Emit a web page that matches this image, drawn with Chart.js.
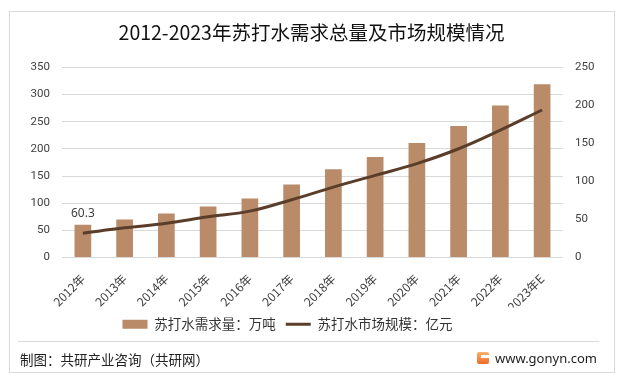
<!DOCTYPE html>
<html><head><meta charset="utf-8">
<script src="https://cdn.jsdelivr.net/npm/chart.js@4/dist/chart.umd.min.js"></script>
<style>
html,body{margin:0;padding:0;background:#fff;}
#wrap{position:relative;width:625px;height:388px;overflow:hidden;font-family:"Noto Sans CJK SC","Noto Sans",sans-serif;}
#frame{position:absolute;left:9px;top:11px;width:606px;height:362px;border:1px solid #d9d9d9;box-sizing:border-box;}
canvas{position:absolute;left:0;top:0;}
#sep{position:absolute;left:18px;top:341px;width:581px;height:1px;background:#d9d9d9;}
#src{position:absolute;left:20px;top:350px;font-size:13.5px;color:#222;line-height:18px;white-space:nowrap;}
#site{position:absolute;left:495px;top:349px;font-size:13px;color:#222;line-height:18px;white-space:nowrap;font-family:"Noto Sans",sans-serif;}
#logo{position:absolute;left:477px;top:352px;width:12px;height:12px;background:linear-gradient(#f8b26a,#ef6b2b);border-radius:2px;}
#logo:after{content:"";position:absolute;left:4px;top:3px;width:8px;height:3px;background:#fff;}
</style></head>
<body>
<div id="wrap">
  <div id="frame"></div>
  <canvas id="c" width="625" height="388"></canvas>
  <div id="sep"></div>
  <div id="src">制图：共研产业咨询（共研网）</div>
  <div id="logo"></div>
  <div id="site">www.gonyn.com</div>
</div>
<script>
const categories = ["2012年","2013年","2014年","2015年","2016年","2017年","2018年","2019年","2020年","2021年","2022年","2023年E"];
const demandValues = [60.3, 70, 81, 94, 108.5, 134.5, 162.5, 185, 211, 242, 280, 319];
const marketValues = [32, 39, 45, 53.5, 61, 76, 92.5, 108, 123.5, 143, 167.5, 194];
const leftTicks = [0, 50, 100, 150, 200, 250, 300, 350];
const rightTicks = [0, 50, 100, 150, 200, 250];
const labelledPoint = 0;

const labelPlugin = {
  id: 'firstLabel',
  afterLayout(chart) {
    if (chart.legend) { chart.legend.left -= 24; chart.legend.right -= 24; }
  },
  afterDatasetsDraw(chart) {
    const meta = chart.getDatasetMeta(0);
    const el = meta.data[labelledPoint];
    const ctx = chart.ctx;
    ctx.save();
    ctx.font = '12px "Noto Sans", sans-serif';
    ctx.fillStyle = '#404040';
    ctx.textAlign = 'center';
    ctx.textBaseline = 'bottom';
    ctx.fillText(String(demandValues[labelledPoint]), el.x, el.y - 5);
    ctx.restore();
  }
};

new Chart(document.getElementById('c'), {
  type: 'bar',
  data: {
    labels: categories,
    datasets: [
      {
        type: 'bar',
        label: '苏打水需求量：万吨',
        data: demandValues,
        backgroundColor: '#b98b69',
        borderWidth: 0,
        barPercentage: 0.8,
        categoryPercentage: 0.5,
        yAxisID: 'y',
        order: 1
      },
      {
        type: 'line',
        label: '苏打水市场规模：亿元',
        data: marketValues,
        borderColor: '#5b3e2a',
        backgroundColor: '#5b3e2a',
        borderWidth: 3,
        pointRadius: 0,
        tension: 0.4,
        fill: false,
        yAxisID: 'y1',
        order: 0
      }
    ]
  },
  options: {
    responsive: false,
    animation: false,
    devicePixelRatio: 1,
    layout: { padding: { left: 14, right: 16, top: 0, bottom: 47 } },
    plugins: {
      title: {
        display: true,
        text: '2012-2023年苏打水需求总量及市场规模情况',
        color: '#111',
        font: { family: '"Noto Sans CJK SC", sans-serif', size: 19.5, weight: 'normal' },
        padding: { top: 21, bottom: 23 }
      },
      legend: {
        position: 'bottom',
        labels: {
          usePointStyle: true,
          pointStyleWidth: 25,
          boxHeight: 9,
          padding: 10,
          color: '#333',
          font: { family: '"Noto Sans CJK SC", sans-serif', size: 13.5 },
          generateLabels(chart) {
            const items = Chart.defaults.plugins.legend.labels.generateLabels(chart);
            items.forEach(it => {
              if (it.datasetIndex === 0) { it.pointStyle = 'rect'; it.lineWidth = 0; }
              else { it.pointStyle = 'line'; it.lineWidth = 3; it.strokeStyle = '#5b3e2a'; }
            });
            items.sort((a, b) => a.datasetIndex - b.datasetIndex);
            return items;
          }
        }
      },
      tooltip: { enabled: false }
    },
    scales: {
      x: {
        grid: { display: false },
        border: { display: false },
        ticks: {
          minRotation: 45, maxRotation: 45, padding: 6,
          color: '#404040',
          font: { family: '"Noto Sans CJK SC", sans-serif', size: 12 }
        },
        afterFit(axis) { axis.height = 50; }
      },
      y: {
        position: 'left',
        min: 0, max: 350,
        afterBuildTicks(axis) { axis.ticks = leftTicks.map(v => ({ value: v })); },
        grid: { color: '#d9d9d9', drawTicks: false },
        border: { display: false },
        ticks: { padding: 12, color: '#404040', font: { family: 'Roboto, sans-serif', size: 11.5 } },
        afterFit(axis) { axis.width = 48; }
      },
      y1: {
        position: 'right',
        min: 0, max: 250,
        afterBuildTicks(axis) { axis.ticks = rightTicks.map(v => ({ value: v })); },
        grid: { display: false, drawTicks: false },
        border: { display: false },
        ticks: { padding: 12, color: '#404040', font: { family: 'Roboto, sans-serif', size: 11.5 } },
        afterFit(axis) { axis.width = 46; }
      }
    }
  },
  plugins: [labelPlugin]
});
</script>
</body></html>
